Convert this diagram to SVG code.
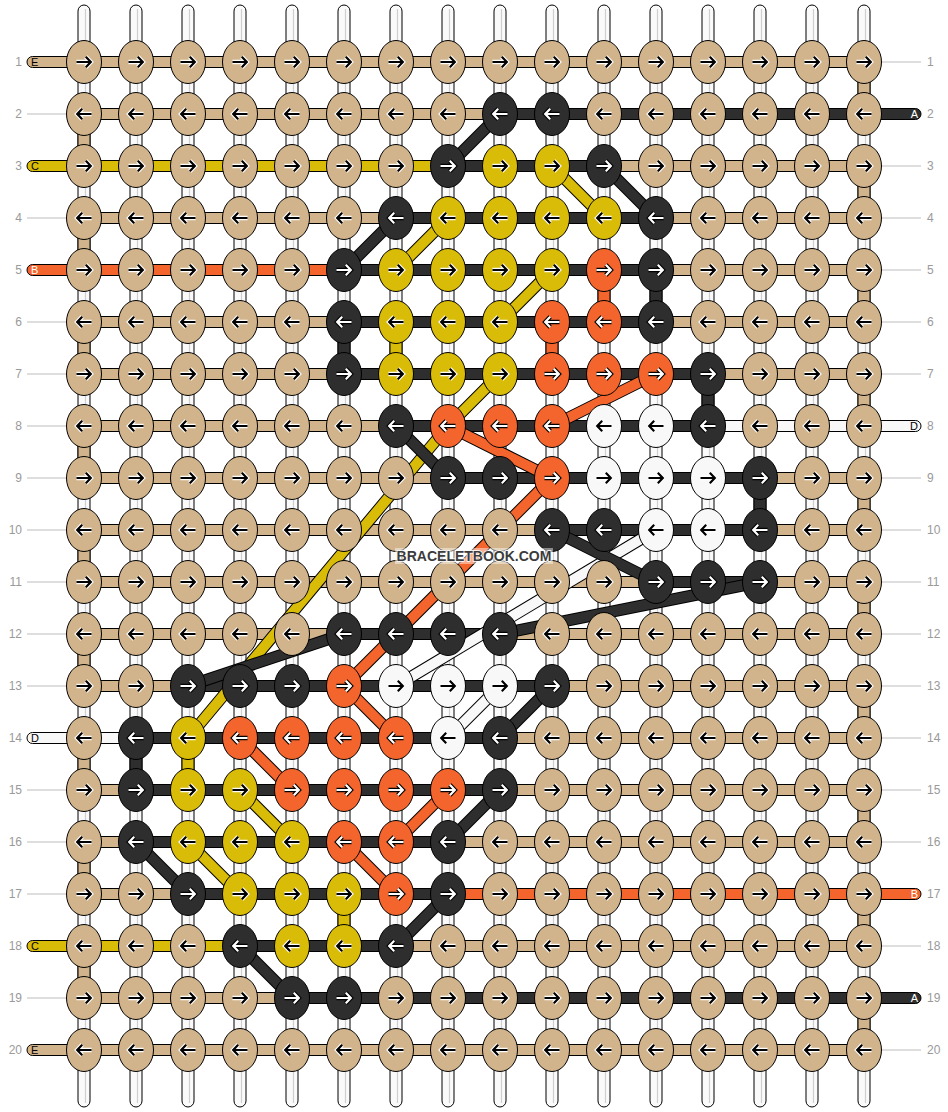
<svg xmlns="http://www.w3.org/2000/svg" xmlns:xlink="http://www.w3.org/1999/xlink" width="948" height="1112" viewBox="0 0 948 1112">
<style>
.vs{fill:#fafafa;stroke:#000;stroke-width:1}
.vl{stroke:#cfcfcf;stroke-width:1.2}
.h{stroke:#000;stroke-width:1}
.T{fill:#d2b48c}.K{fill:#2e2e2e}.Y{fill:#d9bc08}.O{fill:#f4652e}.W{fill:#f8f8f8}
ellipse{stroke:#000;stroke-width:1}
.dk{stroke:#000;stroke-width:12;fill:none;stroke-linejoin:round}
.dT{stroke:#d2b48c;stroke-width:10;fill:none;stroke-linejoin:round}
.dK{stroke:#2e2e2e;stroke-width:10;fill:none;stroke-linejoin:round}
.dY{stroke:#d9bc08;stroke-width:10;fill:none;stroke-linejoin:round}
.dO{stroke:#f4652e;stroke-width:10;fill:none;stroke-linejoin:round}
.dW{stroke:#f8f8f8;stroke-width:10;fill:none;stroke-linejoin:round}
.num{font-family:"Liberation Sans",Arial,sans-serif;font-size:12px;fill:#9a9a9a}
.gl{stroke:#bdbdbd;stroke-width:1}
.tl{font-family:"Liberation Sans",Arial,sans-serif;font-size:11px}
</style>
<defs>
<path id="pr" d="M-7.5 0H6.5M1.8-5.2L6.8 0L1.8 5.2" fill="none" stroke-linecap="butt"/>
<path id="pl" d="M7.5 0H-6.5M-1.8-5.2L-6.8 0L-1.8 5.2" fill="none" stroke-linecap="butt"/>
<g id="rb"><use href="#pr" stroke="#fff" stroke-width="4.4"/><use href="#pr" stroke="#000" stroke-width="2.2"/></g>
<g id="rw"><use href="#pr" stroke="#000" stroke-width="4.4"/><use href="#pr" stroke="#fff" stroke-width="2.2"/></g>
<g id="lb"><use href="#pl" stroke="#fff" stroke-width="4.4"/><use href="#pl" stroke="#000" stroke-width="2.2"/></g>
<g id="lw"><use href="#pl" stroke="#000" stroke-width="4.4"/><use href="#pl" stroke="#fff" stroke-width="2.2"/></g>
</defs>
<rect width="948" height="1112" fill="#fff"/>

<g id="warps">
<rect class="vs" x="78" y="5" width="12" height="1102" rx="6"/><line class="vl" x1="85.5" y1="9" x2="85.5" y2="1103"/>
<rect class="vs" x="130" y="5" width="12" height="1102" rx="6"/><line class="vl" x1="137.5" y1="9" x2="137.5" y2="1103"/>
<rect class="vs" x="182" y="5" width="12" height="1102" rx="6"/><line class="vl" x1="189.5" y1="9" x2="189.5" y2="1103"/>
<rect class="vs" x="234" y="5" width="12" height="1102" rx="6"/><line class="vl" x1="241.5" y1="9" x2="241.5" y2="1103"/>
<rect class="vs" x="286" y="5" width="12" height="1102" rx="6"/><line class="vl" x1="293.5" y1="9" x2="293.5" y2="1103"/>
<rect class="vs" x="338" y="5" width="12" height="1102" rx="6"/><line class="vl" x1="345.5" y1="9" x2="345.5" y2="1103"/>
<rect class="vs" x="390" y="5" width="12" height="1102" rx="6"/><line class="vl" x1="397.5" y1="9" x2="397.5" y2="1103"/>
<rect class="vs" x="442" y="5" width="12" height="1102" rx="6"/><line class="vl" x1="449.5" y1="9" x2="449.5" y2="1103"/>
<rect class="vs" x="494" y="5" width="12" height="1102" rx="6"/><line class="vl" x1="501.5" y1="9" x2="501.5" y2="1103"/>
<rect class="vs" x="546" y="5" width="12" height="1102" rx="6"/><line class="vl" x1="553.5" y1="9" x2="553.5" y2="1103"/>
<rect class="vs" x="598" y="5" width="12" height="1102" rx="6"/><line class="vl" x1="605.5" y1="9" x2="605.5" y2="1103"/>
<rect class="vs" x="650" y="5" width="12" height="1102" rx="6"/><line class="vl" x1="657.5" y1="9" x2="657.5" y2="1103"/>
<rect class="vs" x="702" y="5" width="12" height="1102" rx="6"/><line class="vl" x1="709.5" y1="9" x2="709.5" y2="1103"/>
<rect class="vs" x="754" y="5" width="12" height="1102" rx="6"/><line class="vl" x1="761.5" y1="9" x2="761.5" y2="1103"/>
<rect class="vs" x="806" y="5" width="12" height="1102" rx="6"/><line class="vl" x1="813.5" y1="9" x2="813.5" y2="1103"/>
<rect class="vs" x="858" y="5" width="12" height="1102" rx="6"/><line class="vl" x1="865.5" y1="9" x2="865.5" y2="1103"/>
</g>

<g id="vertical-links">
<rect class="h T" x="78" y="131" width="12" height="18"/>
<rect class="h T" x="78" y="235" width="12" height="18"/>
<rect class="h T" x="78" y="339" width="12" height="18"/>
<rect class="h T" x="78" y="443" width="12" height="18"/>
<rect class="h T" x="78" y="547" width="12" height="18"/>
<rect class="h T" x="78" y="651" width="12" height="18"/>
<rect class="h T" x="78" y="755" width="12" height="18"/>
<rect class="h T" x="78" y="859" width="12" height="18"/>
<rect class="h T" x="78" y="963" width="12" height="18"/>
<rect class="h T" x="858" y="79" width="12" height="18"/>
<rect class="h T" x="858" y="183" width="12" height="18"/>
<rect class="h T" x="858" y="287" width="12" height="18"/>
<rect class="h T" x="858" y="391" width="12" height="18"/>
<rect class="h T" x="858" y="495" width="12" height="18"/>
<rect class="h T" x="858" y="599" width="12" height="18"/>
<rect class="h T" x="858" y="703" width="12" height="18"/>
<rect class="h T" x="858" y="807" width="12" height="18"/>
<rect class="h T" x="858" y="911" width="12" height="18"/>
<rect class="h T" x="858" y="1015" width="12" height="18"/>
<rect class="h K" x="338" y="339" width="12" height="18"/>
<rect class="h Y" x="390" y="339" width="12" height="18"/>
<rect class="h O" x="546" y="339" width="12" height="18"/>
<rect class="h O" x="598" y="287" width="12" height="18"/>
<rect class="h K" x="650" y="287" width="12" height="18"/>
<rect class="h K" x="702" y="391" width="12" height="18"/>
<rect class="h K" x="754" y="495" width="12" height="18"/>
<rect class="h K" x="130" y="755" width="12" height="18"/>
<rect class="h Y" x="182" y="755" width="12" height="18"/>
<rect class="h Y" x="338" y="911" width="12" height="18"/>
</g>

<g id="edges">
<line class="gl" x1="27" y1="114" x2="66" y2="114"/>
<line class="gl" x1="27" y1="218" x2="66" y2="218"/>
<line class="gl" x1="27" y1="322" x2="66" y2="322"/>
<line class="gl" x1="27" y1="374" x2="66" y2="374"/>
<line class="gl" x1="27" y1="426" x2="66" y2="426"/>
<line class="gl" x1="27" y1="478" x2="66" y2="478"/>
<line class="gl" x1="27" y1="530" x2="66" y2="530"/>
<line class="gl" x1="27" y1="582" x2="66" y2="582"/>
<line class="gl" x1="27" y1="634" x2="66" y2="634"/>
<line class="gl" x1="27" y1="686" x2="66" y2="686"/>
<line class="gl" x1="27" y1="790" x2="66" y2="790"/>
<line class="gl" x1="27" y1="842" x2="66" y2="842"/>
<line class="gl" x1="27" y1="894" x2="66" y2="894"/>
<line class="gl" x1="27" y1="998" x2="66" y2="998"/>
<line class="gl" x1="882" y1="62" x2="921" y2="62"/>
<line class="gl" x1="882" y1="166" x2="921" y2="166"/>
<line class="gl" x1="882" y1="218" x2="921" y2="218"/>
<line class="gl" x1="882" y1="270" x2="921" y2="270"/>
<line class="gl" x1="882" y1="322" x2="921" y2="322"/>
<line class="gl" x1="882" y1="374" x2="921" y2="374"/>
<line class="gl" x1="882" y1="478" x2="921" y2="478"/>
<line class="gl" x1="882" y1="530" x2="921" y2="530"/>
<line class="gl" x1="882" y1="582" x2="921" y2="582"/>
<line class="gl" x1="882" y1="634" x2="921" y2="634"/>
<line class="gl" x1="882" y1="686" x2="921" y2="686"/>
<line class="gl" x1="882" y1="738" x2="921" y2="738"/>
<line class="gl" x1="882" y1="790" x2="921" y2="790"/>
<line class="gl" x1="882" y1="842" x2="921" y2="842"/>
<line class="gl" x1="882" y1="946" x2="921" y2="946"/>
<line class="gl" x1="882" y1="1050" x2="921" y2="1050"/>
</g>

<g id="rows">
<rect class="h T" x="84" y="56.5" width="780" height="11"/>
<rect class="h T" x="84" y="108.5" width="416" height="11"/><rect class="h K" x="500" y="108.5" width="364" height="11"/>
<rect class="h Y" x="84" y="160.5" width="364" height="11"/><rect class="h K" x="448" y="160.5" width="156" height="11"/><rect class="h T" x="604" y="160.5" width="260" height="11"/>
<rect class="h T" x="84" y="212.5" width="312" height="11"/><rect class="h K" x="396" y="212.5" width="260" height="11"/><rect class="h T" x="656" y="212.5" width="208" height="11"/>
<rect class="h O" x="84" y="264.5" width="260" height="11"/><rect class="h K" x="344" y="264.5" width="312" height="11"/><rect class="h T" x="656" y="264.5" width="208" height="11"/>
<rect class="h T" x="84" y="316.5" width="260" height="11"/><rect class="h K" x="344" y="316.5" width="312" height="11"/><rect class="h T" x="656" y="316.5" width="208" height="11"/>
<rect class="h T" x="84" y="368.5" width="260" height="11"/><rect class="h K" x="344" y="368.5" width="364" height="11"/><rect class="h T" x="708" y="368.5" width="156" height="11"/>
<rect class="h T" x="84" y="420.5" width="312" height="11"/><rect class="h K" x="396" y="420.5" width="312" height="11"/><rect class="h W" x="708" y="420.5" width="156" height="11"/>
<rect class="h T" x="84" y="472.5" width="364" height="11"/><rect class="h K" x="448" y="472.5" width="312" height="11"/><rect class="h T" x="760" y="472.5" width="104" height="11"/>
<rect class="h T" x="84" y="524.5" width="468" height="11"/><rect class="h K" x="552" y="524.5" width="208" height="11"/><rect class="h T" x="760" y="524.5" width="104" height="11"/>
<rect class="h T" x="84" y="576.5" width="572" height="11"/><rect class="h K" x="656" y="576.5" width="104" height="11"/><rect class="h T" x="760" y="576.5" width="104" height="11"/>
<rect class="h T" x="84" y="628.5" width="260" height="11"/><rect class="h K" x="344" y="628.5" width="156" height="11"/><rect class="h T" x="500" y="628.5" width="364" height="11"/>
<rect class="h T" x="84" y="680.5" width="104" height="11"/><rect class="h K" x="188" y="680.5" width="364" height="11"/><rect class="h T" x="552" y="680.5" width="312" height="11"/>
<rect class="h W" x="84" y="732.5" width="52" height="11"/><rect class="h K" x="136" y="732.5" width="364" height="11"/><rect class="h T" x="500" y="732.5" width="364" height="11"/>
<rect class="h T" x="84" y="784.5" width="52" height="11"/><rect class="h K" x="136" y="784.5" width="364" height="11"/><rect class="h T" x="500" y="784.5" width="364" height="11"/>
<rect class="h T" x="84" y="836.5" width="52" height="11"/><rect class="h K" x="136" y="836.5" width="312" height="11"/><rect class="h T" x="448" y="836.5" width="416" height="11"/>
<rect class="h T" x="84" y="888.5" width="104" height="11"/><rect class="h K" x="188" y="888.5" width="260" height="11"/><rect class="h O" x="448" y="888.5" width="416" height="11"/>
<rect class="h Y" x="84" y="940.5" width="156" height="11"/><rect class="h K" x="240" y="940.5" width="156" height="11"/><rect class="h T" x="396" y="940.5" width="468" height="11"/>
<rect class="h T" x="84" y="992.5" width="208" height="11"/><rect class="h K" x="292" y="992.5" width="572" height="11"/>
<rect class="h T" x="84" y="1044.5" width="780" height="11"/>
</g>

<g id="tabs">
<g id="tab-E1"><rect class="h T" x="27" y="56.5" width="63" height="11" rx="5.5"/><text class="tl" x="31" y="66" fill="#000">E</text></g>
<g id="tab-A2"><rect class="h K" x="858" y="108.5" width="63" height="11" rx="5.5"/><text class="tl" x="918" y="118" fill="#fff" text-anchor="end">A</text></g>
<g id="tab-C3"><rect class="h Y" x="27" y="160.5" width="63" height="11" rx="5.5"/><text class="tl" x="31" y="170" fill="#000">C</text></g>
<g id="tab-B5"><rect class="h O" x="27" y="264.5" width="63" height="11" rx="5.5"/><text class="tl" x="31" y="274" fill="#fff">B</text></g>
<g id="tab-D8"><rect class="h W" x="858" y="420.5" width="63" height="11" rx="5.5"/><text class="tl" x="918" y="430" fill="#000" text-anchor="end">D</text></g>
<g id="tab-D14"><rect class="h W" x="27" y="732.5" width="63" height="11" rx="5.5"/><text class="tl" x="31" y="742" fill="#000">D</text></g>
<g id="tab-B17"><rect class="h O" x="858" y="888.5" width="63" height="11" rx="5.5"/><text class="tl" x="918" y="898" fill="#fff" text-anchor="end">B</text></g>
<g id="tab-C18"><rect class="h Y" x="27" y="940.5" width="63" height="11" rx="5.5"/><text class="tl" x="31" y="950" fill="#000">C</text></g>
<g id="tab-A19"><rect class="h K" x="858" y="992.5" width="63" height="11" rx="5.5"/><text class="tl" x="918" y="1002" fill="#fff" text-anchor="end">A</text></g>
<g id="tab-E20"><rect class="h T" x="27" y="1044.5" width="63" height="11" rx="5.5"/><text class="tl" x="31" y="1054" fill="#000">E</text></g>
</g>

<g id="connectors">
<path class="dk" d="M656 530L396 686"/><path class="dW" d="M656 530L396 686"/>
<path class="dk" d="M500 686L448 738"/><path class="dW" d="M500 686L448 738"/>
<path class="dk" d="M552 166L604 218"/><path class="dY" d="M552 166L604 218"/>
<path class="dk" d="M448 218L396 270"/><path class="dY" d="M448 218L396 270"/>
<path class="dk" d="M552 270L500 322"/><path class="dY" d="M552 270L500 322"/>
<path class="dk" d="M500 374L448 426L188 738"/><path class="dY" d="M500 374L448 426L188 738"/>
<path class="dk" d="M240 790L292 842"/><path class="dY" d="M240 790L292 842"/>
<path class="dk" d="M188 842L240 894"/><path class="dY" d="M188 842L240 894"/>
<path class="dk" d="M656 374L552 426"/><path class="dO" d="M656 374L552 426"/>
<path class="dk" d="M448 426L552 478"/><path class="dO" d="M448 426L552 478"/>
<path class="dk" d="M552 478L344 686"/><path class="dO" d="M552 478L344 686"/>
<path class="dk" d="M344 686L396 738"/><path class="dO" d="M344 686L396 738"/>
<path class="dk" d="M240 738L292 790"/><path class="dO" d="M240 738L292 790"/>
<path class="dk" d="M448 790L396 842"/><path class="dO" d="M448 790L396 842"/>
<path class="dk" d="M344 842L396 894"/><path class="dO" d="M344 842L396 894"/>
<path class="dk" d="M500 114L448 166"/><path class="dK" d="M500 114L448 166"/>
<path class="dk" d="M604 166L656 218"/><path class="dK" d="M604 166L656 218"/>
<path class="dk" d="M396 218L344 270"/><path class="dK" d="M396 218L344 270"/>
<path class="dk" d="M396 426L448 478"/><path class="dK" d="M396 426L448 478"/>
<path class="dk" d="M552 530L656 582"/><path class="dK" d="M552 530L656 582"/>
<path class="dk" d="M760 582L500 634"/><path class="dK" d="M760 582L500 634"/>
<path class="dk" d="M344 634L188 686"/><path class="dK" d="M344 634L188 686"/>
<path class="dk" d="M552 686L500 738"/><path class="dK" d="M552 686L500 738"/>
<path class="dk" d="M500 790L448 842"/><path class="dK" d="M500 790L448 842"/>
<path class="dk" d="M136 842L188 894"/><path class="dK" d="M136 842L188 894"/>
<path class="dk" d="M448 894L396 946"/><path class="dK" d="M448 894L396 946"/>
<path class="dk" d="M240 946L292 998"/><path class="dK" d="M240 946L292 998"/>
</g>

<g id="knots">
<g id="n1-1"><ellipse class="T" cx="84" cy="62" rx="17.5" ry="21.5"/><use href="#rb" x="84" y="62"/></g>
<g id="n1-2"><ellipse class="T" cx="136" cy="62" rx="17.5" ry="21.5"/><use href="#rb" x="136" y="62"/></g>
<g id="n1-3"><ellipse class="T" cx="188" cy="62" rx="17.5" ry="21.5"/><use href="#rb" x="188" y="62"/></g>
<g id="n1-4"><ellipse class="T" cx="240" cy="62" rx="17.5" ry="21.5"/><use href="#rb" x="240" y="62"/></g>
<g id="n1-5"><ellipse class="T" cx="292" cy="62" rx="17.5" ry="21.5"/><use href="#rb" x="292" y="62"/></g>
<g id="n1-6"><ellipse class="T" cx="344" cy="62" rx="17.5" ry="21.5"/><use href="#rb" x="344" y="62"/></g>
<g id="n1-7"><ellipse class="T" cx="396" cy="62" rx="17.5" ry="21.5"/><use href="#rb" x="396" y="62"/></g>
<g id="n1-8"><ellipse class="T" cx="448" cy="62" rx="17.5" ry="21.5"/><use href="#rb" x="448" y="62"/></g>
<g id="n1-9"><ellipse class="T" cx="500" cy="62" rx="17.5" ry="21.5"/><use href="#rb" x="500" y="62"/></g>
<g id="n1-10"><ellipse class="T" cx="552" cy="62" rx="17.5" ry="21.5"/><use href="#rb" x="552" y="62"/></g>
<g id="n1-11"><ellipse class="T" cx="604" cy="62" rx="17.5" ry="21.5"/><use href="#rb" x="604" y="62"/></g>
<g id="n1-12"><ellipse class="T" cx="656" cy="62" rx="17.5" ry="21.5"/><use href="#rb" x="656" y="62"/></g>
<g id="n1-13"><ellipse class="T" cx="708" cy="62" rx="17.5" ry="21.5"/><use href="#rb" x="708" y="62"/></g>
<g id="n1-14"><ellipse class="T" cx="760" cy="62" rx="17.5" ry="21.5"/><use href="#rb" x="760" y="62"/></g>
<g id="n1-15"><ellipse class="T" cx="812" cy="62" rx="17.5" ry="21.5"/><use href="#rb" x="812" y="62"/></g>
<g id="n1-16"><ellipse class="T" cx="864" cy="62" rx="17.5" ry="21.5"/><use href="#rb" x="864" y="62"/></g>

<g id="n2-1"><ellipse class="T" cx="84" cy="114" rx="17.5" ry="21.5"/><use href="#lb" x="84" y="114"/></g>
<g id="n2-2"><ellipse class="T" cx="136" cy="114" rx="17.5" ry="21.5"/><use href="#lb" x="136" y="114"/></g>
<g id="n2-3"><ellipse class="T" cx="188" cy="114" rx="17.5" ry="21.5"/><use href="#lb" x="188" y="114"/></g>
<g id="n2-4"><ellipse class="T" cx="240" cy="114" rx="17.5" ry="21.5"/><use href="#lb" x="240" y="114"/></g>
<g id="n2-5"><ellipse class="T" cx="292" cy="114" rx="17.5" ry="21.5"/><use href="#lb" x="292" y="114"/></g>
<g id="n2-6"><ellipse class="T" cx="344" cy="114" rx="17.5" ry="21.5"/><use href="#lb" x="344" y="114"/></g>
<g id="n2-7"><ellipse class="T" cx="396" cy="114" rx="17.5" ry="21.5"/><use href="#lb" x="396" y="114"/></g>
<g id="n2-8"><ellipse class="T" cx="448" cy="114" rx="17.5" ry="21.5"/><use href="#lb" x="448" y="114"/></g>
<g id="n2-9"><ellipse class="K" cx="500" cy="114" rx="17.5" ry="21.5"/><use href="#lw" x="500" y="114"/></g>
<g id="n2-10"><ellipse class="K" cx="552" cy="114" rx="17.5" ry="21.5"/><use href="#lw" x="552" y="114"/></g>
<g id="n2-11"><ellipse class="T" cx="604" cy="114" rx="17.5" ry="21.5"/><use href="#lb" x="604" y="114"/></g>
<g id="n2-12"><ellipse class="T" cx="656" cy="114" rx="17.5" ry="21.5"/><use href="#lb" x="656" y="114"/></g>
<g id="n2-13"><ellipse class="T" cx="708" cy="114" rx="17.5" ry="21.5"/><use href="#lb" x="708" y="114"/></g>
<g id="n2-14"><ellipse class="T" cx="760" cy="114" rx="17.5" ry="21.5"/><use href="#lb" x="760" y="114"/></g>
<g id="n2-15"><ellipse class="T" cx="812" cy="114" rx="17.5" ry="21.5"/><use href="#lb" x="812" y="114"/></g>
<g id="n2-16"><ellipse class="T" cx="864" cy="114" rx="17.5" ry="21.5"/><use href="#lb" x="864" y="114"/></g>

<g id="n3-1"><ellipse class="T" cx="84" cy="166" rx="17.5" ry="21.5"/><use href="#rb" x="84" y="166"/></g>
<g id="n3-2"><ellipse class="T" cx="136" cy="166" rx="17.5" ry="21.5"/><use href="#rb" x="136" y="166"/></g>
<g id="n3-3"><ellipse class="T" cx="188" cy="166" rx="17.5" ry="21.5"/><use href="#rb" x="188" y="166"/></g>
<g id="n3-4"><ellipse class="T" cx="240" cy="166" rx="17.5" ry="21.5"/><use href="#rb" x="240" y="166"/></g>
<g id="n3-5"><ellipse class="T" cx="292" cy="166" rx="17.5" ry="21.5"/><use href="#rb" x="292" y="166"/></g>
<g id="n3-6"><ellipse class="T" cx="344" cy="166" rx="17.5" ry="21.5"/><use href="#rb" x="344" y="166"/></g>
<g id="n3-7"><ellipse class="T" cx="396" cy="166" rx="17.5" ry="21.5"/><use href="#rb" x="396" y="166"/></g>
<g id="n3-8"><ellipse class="K" cx="448" cy="166" rx="17.5" ry="21.5"/><use href="#rw" x="448" y="166"/></g>
<g id="n3-9"><ellipse class="Y" cx="500" cy="166" rx="17.5" ry="21.5"/><use href="#rb" x="500" y="166"/></g>
<g id="n3-10"><ellipse class="Y" cx="552" cy="166" rx="17.5" ry="21.5"/><use href="#rb" x="552" y="166"/></g>
<g id="n3-11"><ellipse class="K" cx="604" cy="166" rx="17.5" ry="21.5"/><use href="#rw" x="604" y="166"/></g>
<g id="n3-12"><ellipse class="T" cx="656" cy="166" rx="17.5" ry="21.5"/><use href="#rb" x="656" y="166"/></g>
<g id="n3-13"><ellipse class="T" cx="708" cy="166" rx="17.5" ry="21.5"/><use href="#rb" x="708" y="166"/></g>
<g id="n3-14"><ellipse class="T" cx="760" cy="166" rx="17.5" ry="21.5"/><use href="#rb" x="760" y="166"/></g>
<g id="n3-15"><ellipse class="T" cx="812" cy="166" rx="17.5" ry="21.5"/><use href="#rb" x="812" y="166"/></g>
<g id="n3-16"><ellipse class="T" cx="864" cy="166" rx="17.5" ry="21.5"/><use href="#rb" x="864" y="166"/></g>

<g id="n4-1"><ellipse class="T" cx="84" cy="218" rx="17.5" ry="21.5"/><use href="#lb" x="84" y="218"/></g>
<g id="n4-2"><ellipse class="T" cx="136" cy="218" rx="17.5" ry="21.5"/><use href="#lb" x="136" y="218"/></g>
<g id="n4-3"><ellipse class="T" cx="188" cy="218" rx="17.5" ry="21.5"/><use href="#lb" x="188" y="218"/></g>
<g id="n4-4"><ellipse class="T" cx="240" cy="218" rx="17.5" ry="21.5"/><use href="#lb" x="240" y="218"/></g>
<g id="n4-5"><ellipse class="T" cx="292" cy="218" rx="17.5" ry="21.5"/><use href="#lb" x="292" y="218"/></g>
<g id="n4-6"><ellipse class="T" cx="344" cy="218" rx="17.5" ry="21.5"/><use href="#lb" x="344" y="218"/></g>
<g id="n4-7"><ellipse class="K" cx="396" cy="218" rx="17.5" ry="21.5"/><use href="#lw" x="396" y="218"/></g>
<g id="n4-8"><ellipse class="Y" cx="448" cy="218" rx="17.5" ry="21.5"/><use href="#lb" x="448" y="218"/></g>
<g id="n4-9"><ellipse class="Y" cx="500" cy="218" rx="17.5" ry="21.5"/><use href="#lb" x="500" y="218"/></g>
<g id="n4-10"><ellipse class="Y" cx="552" cy="218" rx="17.5" ry="21.5"/><use href="#lb" x="552" y="218"/></g>
<g id="n4-11"><ellipse class="Y" cx="604" cy="218" rx="17.5" ry="21.5"/><use href="#lb" x="604" y="218"/></g>
<g id="n4-12"><ellipse class="K" cx="656" cy="218" rx="17.5" ry="21.5"/><use href="#lw" x="656" y="218"/></g>
<g id="n4-13"><ellipse class="T" cx="708" cy="218" rx="17.5" ry="21.5"/><use href="#lb" x="708" y="218"/></g>
<g id="n4-14"><ellipse class="T" cx="760" cy="218" rx="17.5" ry="21.5"/><use href="#lb" x="760" y="218"/></g>
<g id="n4-15"><ellipse class="T" cx="812" cy="218" rx="17.5" ry="21.5"/><use href="#lb" x="812" y="218"/></g>
<g id="n4-16"><ellipse class="T" cx="864" cy="218" rx="17.5" ry="21.5"/><use href="#lb" x="864" y="218"/></g>

<g id="n5-1"><ellipse class="T" cx="84" cy="270" rx="17.5" ry="21.5"/><use href="#rb" x="84" y="270"/></g>
<g id="n5-2"><ellipse class="T" cx="136" cy="270" rx="17.5" ry="21.5"/><use href="#rb" x="136" y="270"/></g>
<g id="n5-3"><ellipse class="T" cx="188" cy="270" rx="17.5" ry="21.5"/><use href="#rb" x="188" y="270"/></g>
<g id="n5-4"><ellipse class="T" cx="240" cy="270" rx="17.5" ry="21.5"/><use href="#rb" x="240" y="270"/></g>
<g id="n5-5"><ellipse class="T" cx="292" cy="270" rx="17.5" ry="21.5"/><use href="#rb" x="292" y="270"/></g>
<g id="n5-6"><ellipse class="K" cx="344" cy="270" rx="17.5" ry="21.5"/><use href="#rw" x="344" y="270"/></g>
<g id="n5-7"><ellipse class="Y" cx="396" cy="270" rx="17.5" ry="21.5"/><use href="#rb" x="396" y="270"/></g>
<g id="n5-8"><ellipse class="Y" cx="448" cy="270" rx="17.5" ry="21.5"/><use href="#rb" x="448" y="270"/></g>
<g id="n5-9"><ellipse class="Y" cx="500" cy="270" rx="17.5" ry="21.5"/><use href="#rb" x="500" y="270"/></g>
<g id="n5-10"><ellipse class="Y" cx="552" cy="270" rx="17.5" ry="21.5"/><use href="#rb" x="552" y="270"/></g>
<g id="n5-11"><ellipse class="O" cx="604" cy="270" rx="17.5" ry="21.5"/><use href="#rw" x="604" y="270"/></g>
<g id="n5-12"><ellipse class="K" cx="656" cy="270" rx="17.5" ry="21.5"/><use href="#rw" x="656" y="270"/></g>
<g id="n5-13"><ellipse class="T" cx="708" cy="270" rx="17.5" ry="21.5"/><use href="#rb" x="708" y="270"/></g>
<g id="n5-14"><ellipse class="T" cx="760" cy="270" rx="17.5" ry="21.5"/><use href="#rb" x="760" y="270"/></g>
<g id="n5-15"><ellipse class="T" cx="812" cy="270" rx="17.5" ry="21.5"/><use href="#rb" x="812" y="270"/></g>
<g id="n5-16"><ellipse class="T" cx="864" cy="270" rx="17.5" ry="21.5"/><use href="#rb" x="864" y="270"/></g>

<g id="n6-1"><ellipse class="T" cx="84" cy="322" rx="17.5" ry="21.5"/><use href="#lb" x="84" y="322"/></g>
<g id="n6-2"><ellipse class="T" cx="136" cy="322" rx="17.5" ry="21.5"/><use href="#lb" x="136" y="322"/></g>
<g id="n6-3"><ellipse class="T" cx="188" cy="322" rx="17.5" ry="21.5"/><use href="#lb" x="188" y="322"/></g>
<g id="n6-4"><ellipse class="T" cx="240" cy="322" rx="17.5" ry="21.5"/><use href="#lb" x="240" y="322"/></g>
<g id="n6-5"><ellipse class="T" cx="292" cy="322" rx="17.5" ry="21.5"/><use href="#lb" x="292" y="322"/></g>
<g id="n6-6"><ellipse class="K" cx="344" cy="322" rx="17.5" ry="21.5"/><use href="#lw" x="344" y="322"/></g>
<g id="n6-7"><ellipse class="Y" cx="396" cy="322" rx="17.5" ry="21.5"/><use href="#lb" x="396" y="322"/></g>
<g id="n6-8"><ellipse class="Y" cx="448" cy="322" rx="17.5" ry="21.5"/><use href="#lb" x="448" y="322"/></g>
<g id="n6-9"><ellipse class="Y" cx="500" cy="322" rx="17.5" ry="21.5"/><use href="#lb" x="500" y="322"/></g>
<g id="n6-10"><ellipse class="O" cx="552" cy="322" rx="17.5" ry="21.5"/><use href="#lw" x="552" y="322"/></g>
<g id="n6-11"><ellipse class="O" cx="604" cy="322" rx="17.5" ry="21.5"/><use href="#lw" x="604" y="322"/></g>
<g id="n6-12"><ellipse class="K" cx="656" cy="322" rx="17.5" ry="21.5"/><use href="#lw" x="656" y="322"/></g>
<g id="n6-13"><ellipse class="T" cx="708" cy="322" rx="17.5" ry="21.5"/><use href="#lb" x="708" y="322"/></g>
<g id="n6-14"><ellipse class="T" cx="760" cy="322" rx="17.5" ry="21.5"/><use href="#lb" x="760" y="322"/></g>
<g id="n6-15"><ellipse class="T" cx="812" cy="322" rx="17.5" ry="21.5"/><use href="#lb" x="812" y="322"/></g>
<g id="n6-16"><ellipse class="T" cx="864" cy="322" rx="17.5" ry="21.5"/><use href="#lb" x="864" y="322"/></g>

<g id="n7-1"><ellipse class="T" cx="84" cy="374" rx="17.5" ry="21.5"/><use href="#rb" x="84" y="374"/></g>
<g id="n7-2"><ellipse class="T" cx="136" cy="374" rx="17.5" ry="21.5"/><use href="#rb" x="136" y="374"/></g>
<g id="n7-3"><ellipse class="T" cx="188" cy="374" rx="17.5" ry="21.5"/><use href="#rb" x="188" y="374"/></g>
<g id="n7-4"><ellipse class="T" cx="240" cy="374" rx="17.5" ry="21.5"/><use href="#rb" x="240" y="374"/></g>
<g id="n7-5"><ellipse class="T" cx="292" cy="374" rx="17.5" ry="21.5"/><use href="#rb" x="292" y="374"/></g>
<g id="n7-6"><ellipse class="K" cx="344" cy="374" rx="17.5" ry="21.5"/><use href="#rw" x="344" y="374"/></g>
<g id="n7-7"><ellipse class="Y" cx="396" cy="374" rx="17.5" ry="21.5"/><use href="#rb" x="396" y="374"/></g>
<g id="n7-8"><ellipse class="Y" cx="448" cy="374" rx="17.5" ry="21.5"/><use href="#rb" x="448" y="374"/></g>
<g id="n7-9"><ellipse class="Y" cx="500" cy="374" rx="17.5" ry="21.5"/><use href="#rb" x="500" y="374"/></g>
<g id="n7-10"><ellipse class="O" cx="552" cy="374" rx="17.5" ry="21.5"/><use href="#rw" x="552" y="374"/></g>
<g id="n7-11"><ellipse class="O" cx="604" cy="374" rx="17.5" ry="21.5"/><use href="#rw" x="604" y="374"/></g>
<g id="n7-12"><ellipse class="O" cx="656" cy="374" rx="17.5" ry="21.5"/><use href="#rw" x="656" y="374"/></g>
<g id="n7-13"><ellipse class="K" cx="708" cy="374" rx="17.5" ry="21.5"/><use href="#rw" x="708" y="374"/></g>
<g id="n7-14"><ellipse class="T" cx="760" cy="374" rx="17.5" ry="21.5"/><use href="#rb" x="760" y="374"/></g>
<g id="n7-15"><ellipse class="T" cx="812" cy="374" rx="17.5" ry="21.5"/><use href="#rb" x="812" y="374"/></g>
<g id="n7-16"><ellipse class="T" cx="864" cy="374" rx="17.5" ry="21.5"/><use href="#rb" x="864" y="374"/></g>

<g id="n8-1"><ellipse class="T" cx="84" cy="426" rx="17.5" ry="21.5"/><use href="#lb" x="84" y="426"/></g>
<g id="n8-2"><ellipse class="T" cx="136" cy="426" rx="17.5" ry="21.5"/><use href="#lb" x="136" y="426"/></g>
<g id="n8-3"><ellipse class="T" cx="188" cy="426" rx="17.5" ry="21.5"/><use href="#lb" x="188" y="426"/></g>
<g id="n8-4"><ellipse class="T" cx="240" cy="426" rx="17.5" ry="21.5"/><use href="#lb" x="240" y="426"/></g>
<g id="n8-5"><ellipse class="T" cx="292" cy="426" rx="17.5" ry="21.5"/><use href="#lb" x="292" y="426"/></g>
<g id="n8-6"><ellipse class="T" cx="344" cy="426" rx="17.5" ry="21.5"/><use href="#lb" x="344" y="426"/></g>
<g id="n8-7"><ellipse class="K" cx="396" cy="426" rx="17.5" ry="21.5"/><use href="#lw" x="396" y="426"/></g>
<g id="n8-8"><ellipse class="O" cx="448" cy="426" rx="17.5" ry="21.5"/><use href="#lw" x="448" y="426"/></g>
<g id="n8-9"><ellipse class="O" cx="500" cy="426" rx="17.5" ry="21.5"/><use href="#lw" x="500" y="426"/></g>
<g id="n8-10"><ellipse class="O" cx="552" cy="426" rx="17.5" ry="21.5"/><use href="#lw" x="552" y="426"/></g>
<g id="n8-11"><ellipse class="W" cx="604" cy="426" rx="17.5" ry="21.5"/><use href="#lb" x="604" y="426"/></g>
<g id="n8-12"><ellipse class="W" cx="656" cy="426" rx="17.5" ry="21.5"/><use href="#lb" x="656" y="426"/></g>
<g id="n8-13"><ellipse class="K" cx="708" cy="426" rx="17.5" ry="21.5"/><use href="#lw" x="708" y="426"/></g>
<g id="n8-14"><ellipse class="T" cx="760" cy="426" rx="17.5" ry="21.5"/><use href="#lb" x="760" y="426"/></g>
<g id="n8-15"><ellipse class="T" cx="812" cy="426" rx="17.5" ry="21.5"/><use href="#lb" x="812" y="426"/></g>
<g id="n8-16"><ellipse class="T" cx="864" cy="426" rx="17.5" ry="21.5"/><use href="#lb" x="864" y="426"/></g>

<g id="n9-1"><ellipse class="T" cx="84" cy="478" rx="17.5" ry="21.5"/><use href="#rb" x="84" y="478"/></g>
<g id="n9-2"><ellipse class="T" cx="136" cy="478" rx="17.5" ry="21.5"/><use href="#rb" x="136" y="478"/></g>
<g id="n9-3"><ellipse class="T" cx="188" cy="478" rx="17.5" ry="21.5"/><use href="#rb" x="188" y="478"/></g>
<g id="n9-4"><ellipse class="T" cx="240" cy="478" rx="17.5" ry="21.5"/><use href="#rb" x="240" y="478"/></g>
<g id="n9-5"><ellipse class="T" cx="292" cy="478" rx="17.5" ry="21.5"/><use href="#rb" x="292" y="478"/></g>
<g id="n9-6"><ellipse class="T" cx="344" cy="478" rx="17.5" ry="21.5"/><use href="#rb" x="344" y="478"/></g>
<g id="n9-7"><ellipse class="T" cx="396" cy="478" rx="17.5" ry="21.5"/><use href="#rb" x="396" y="478"/></g>
<g id="n9-8"><ellipse class="K" cx="448" cy="478" rx="17.5" ry="21.5"/><use href="#rw" x="448" y="478"/></g>
<g id="n9-9"><ellipse class="K" cx="500" cy="478" rx="17.5" ry="21.5"/><use href="#rw" x="500" y="478"/></g>
<g id="n9-10"><ellipse class="O" cx="552" cy="478" rx="17.5" ry="21.5"/><use href="#rw" x="552" y="478"/></g>
<g id="n9-11"><ellipse class="W" cx="604" cy="478" rx="17.5" ry="21.5"/><use href="#rb" x="604" y="478"/></g>
<g id="n9-12"><ellipse class="W" cx="656" cy="478" rx="17.5" ry="21.5"/><use href="#rb" x="656" y="478"/></g>
<g id="n9-13"><ellipse class="W" cx="708" cy="478" rx="17.5" ry="21.5"/><use href="#rb" x="708" y="478"/></g>
<g id="n9-14"><ellipse class="K" cx="760" cy="478" rx="17.5" ry="21.5"/><use href="#rw" x="760" y="478"/></g>
<g id="n9-15"><ellipse class="T" cx="812" cy="478" rx="17.5" ry="21.5"/><use href="#rb" x="812" y="478"/></g>
<g id="n9-16"><ellipse class="T" cx="864" cy="478" rx="17.5" ry="21.5"/><use href="#rb" x="864" y="478"/></g>

<g id="n10-1"><ellipse class="T" cx="84" cy="530" rx="17.5" ry="21.5"/><use href="#lb" x="84" y="530"/></g>
<g id="n10-2"><ellipse class="T" cx="136" cy="530" rx="17.5" ry="21.5"/><use href="#lb" x="136" y="530"/></g>
<g id="n10-3"><ellipse class="T" cx="188" cy="530" rx="17.5" ry="21.5"/><use href="#lb" x="188" y="530"/></g>
<g id="n10-4"><ellipse class="T" cx="240" cy="530" rx="17.5" ry="21.5"/><use href="#lb" x="240" y="530"/></g>
<g id="n10-5"><ellipse class="T" cx="292" cy="530" rx="17.5" ry="21.5"/><use href="#lb" x="292" y="530"/></g>
<g id="n10-6"><ellipse class="T" cx="344" cy="530" rx="17.5" ry="21.5"/><use href="#lb" x="344" y="530"/></g>
<g id="n10-7"><ellipse class="T" cx="396" cy="530" rx="17.5" ry="21.5"/><use href="#lb" x="396" y="530"/></g>
<g id="n10-8"><ellipse class="T" cx="448" cy="530" rx="17.5" ry="21.5"/><use href="#lb" x="448" y="530"/></g>
<g id="n10-9"><ellipse class="T" cx="500" cy="530" rx="17.5" ry="21.5"/><use href="#lb" x="500" y="530"/></g>
<g id="n10-10"><ellipse class="K" cx="552" cy="530" rx="17.5" ry="21.5"/><use href="#lw" x="552" y="530"/></g>
<g id="n10-11"><ellipse class="K" cx="604" cy="530" rx="17.5" ry="21.5"/><use href="#lw" x="604" y="530"/></g>
<g id="n10-12"><ellipse class="W" cx="656" cy="530" rx="17.5" ry="21.5"/><use href="#lb" x="656" y="530"/></g>
<g id="n10-13"><ellipse class="W" cx="708" cy="530" rx="17.5" ry="21.5"/><use href="#lb" x="708" y="530"/></g>
<g id="n10-14"><ellipse class="K" cx="760" cy="530" rx="17.5" ry="21.5"/><use href="#lw" x="760" y="530"/></g>
<g id="n10-15"><ellipse class="T" cx="812" cy="530" rx="17.5" ry="21.5"/><use href="#lb" x="812" y="530"/></g>
<g id="n10-16"><ellipse class="T" cx="864" cy="530" rx="17.5" ry="21.5"/><use href="#lb" x="864" y="530"/></g>

<g id="n11-1"><ellipse class="T" cx="84" cy="582" rx="17.5" ry="21.5"/><use href="#rb" x="84" y="582"/></g>
<g id="n11-2"><ellipse class="T" cx="136" cy="582" rx="17.5" ry="21.5"/><use href="#rb" x="136" y="582"/></g>
<g id="n11-3"><ellipse class="T" cx="188" cy="582" rx="17.5" ry="21.5"/><use href="#rb" x="188" y="582"/></g>
<g id="n11-4"><ellipse class="T" cx="240" cy="582" rx="17.5" ry="21.5"/><use href="#rb" x="240" y="582"/></g>
<g id="n11-5"><ellipse class="T" cx="292" cy="582" rx="17.5" ry="21.5"/><use href="#rb" x="292" y="582"/></g>
<g id="n11-6"><ellipse class="T" cx="344" cy="582" rx="17.5" ry="21.5"/><use href="#rb" x="344" y="582"/></g>
<g id="n11-7"><ellipse class="T" cx="396" cy="582" rx="17.5" ry="21.5"/><use href="#rb" x="396" y="582"/></g>
<g id="n11-8"><ellipse class="T" cx="448" cy="582" rx="17.5" ry="21.5"/><use href="#rb" x="448" y="582"/></g>
<g id="n11-9"><ellipse class="T" cx="500" cy="582" rx="17.5" ry="21.5"/><use href="#rb" x="500" y="582"/></g>
<g id="n11-10"><ellipse class="T" cx="552" cy="582" rx="17.5" ry="21.5"/><use href="#rb" x="552" y="582"/></g>
<g id="n11-11"><ellipse class="T" cx="604" cy="582" rx="17.5" ry="21.5"/><use href="#rb" x="604" y="582"/></g>
<g id="n11-12"><ellipse class="K" cx="656" cy="582" rx="17.5" ry="21.5"/><use href="#rw" x="656" y="582"/></g>
<g id="n11-13"><ellipse class="K" cx="708" cy="582" rx="17.5" ry="21.5"/><use href="#rw" x="708" y="582"/></g>
<g id="n11-14"><ellipse class="K" cx="760" cy="582" rx="17.5" ry="21.5"/><use href="#rw" x="760" y="582"/></g>
<g id="n11-15"><ellipse class="T" cx="812" cy="582" rx="17.5" ry="21.5"/><use href="#rb" x="812" y="582"/></g>
<g id="n11-16"><ellipse class="T" cx="864" cy="582" rx="17.5" ry="21.5"/><use href="#rb" x="864" y="582"/></g>

<g id="n12-1"><ellipse class="T" cx="84" cy="634" rx="17.5" ry="21.5"/><use href="#lb" x="84" y="634"/></g>
<g id="n12-2"><ellipse class="T" cx="136" cy="634" rx="17.5" ry="21.5"/><use href="#lb" x="136" y="634"/></g>
<g id="n12-3"><ellipse class="T" cx="188" cy="634" rx="17.5" ry="21.5"/><use href="#lb" x="188" y="634"/></g>
<g id="n12-4"><ellipse class="T" cx="240" cy="634" rx="17.5" ry="21.5"/><use href="#lb" x="240" y="634"/></g>
<g id="n12-5"><ellipse class="T" cx="292" cy="634" rx="17.5" ry="21.5"/><use href="#lb" x="292" y="634"/></g>
<g id="n12-6"><ellipse class="K" cx="344" cy="634" rx="17.5" ry="21.5"/><use href="#lw" x="344" y="634"/></g>
<g id="n12-7"><ellipse class="K" cx="396" cy="634" rx="17.5" ry="21.5"/><use href="#lw" x="396" y="634"/></g>
<g id="n12-8"><ellipse class="K" cx="448" cy="634" rx="17.5" ry="21.5"/><use href="#lw" x="448" y="634"/></g>
<g id="n12-9"><ellipse class="K" cx="500" cy="634" rx="17.5" ry="21.5"/><use href="#lw" x="500" y="634"/></g>
<g id="n12-10"><ellipse class="T" cx="552" cy="634" rx="17.5" ry="21.5"/><use href="#lb" x="552" y="634"/></g>
<g id="n12-11"><ellipse class="T" cx="604" cy="634" rx="17.5" ry="21.5"/><use href="#lb" x="604" y="634"/></g>
<g id="n12-12"><ellipse class="T" cx="656" cy="634" rx="17.5" ry="21.5"/><use href="#lb" x="656" y="634"/></g>
<g id="n12-13"><ellipse class="T" cx="708" cy="634" rx="17.5" ry="21.5"/><use href="#lb" x="708" y="634"/></g>
<g id="n12-14"><ellipse class="T" cx="760" cy="634" rx="17.5" ry="21.5"/><use href="#lb" x="760" y="634"/></g>
<g id="n12-15"><ellipse class="T" cx="812" cy="634" rx="17.5" ry="21.5"/><use href="#lb" x="812" y="634"/></g>
<g id="n12-16"><ellipse class="T" cx="864" cy="634" rx="17.5" ry="21.5"/><use href="#lb" x="864" y="634"/></g>

<g id="n13-1"><ellipse class="T" cx="84" cy="686" rx="17.5" ry="21.5"/><use href="#rb" x="84" y="686"/></g>
<g id="n13-2"><ellipse class="T" cx="136" cy="686" rx="17.5" ry="21.5"/><use href="#rb" x="136" y="686"/></g>
<g id="n13-3"><ellipse class="K" cx="188" cy="686" rx="17.5" ry="21.5"/><use href="#rw" x="188" y="686"/></g>
<g id="n13-4"><ellipse class="K" cx="240" cy="686" rx="17.5" ry="21.5"/><use href="#rw" x="240" y="686"/></g>
<g id="n13-5"><ellipse class="K" cx="292" cy="686" rx="17.5" ry="21.5"/><use href="#rw" x="292" y="686"/></g>
<g id="n13-6"><ellipse class="O" cx="344" cy="686" rx="17.5" ry="21.5"/><use href="#rw" x="344" y="686"/></g>
<g id="n13-7"><ellipse class="W" cx="396" cy="686" rx="17.5" ry="21.5"/><use href="#rb" x="396" y="686"/></g>
<g id="n13-8"><ellipse class="W" cx="448" cy="686" rx="17.5" ry="21.5"/><use href="#rb" x="448" y="686"/></g>
<g id="n13-9"><ellipse class="W" cx="500" cy="686" rx="17.5" ry="21.5"/><use href="#rb" x="500" y="686"/></g>
<g id="n13-10"><ellipse class="K" cx="552" cy="686" rx="17.5" ry="21.5"/><use href="#rw" x="552" y="686"/></g>
<g id="n13-11"><ellipse class="T" cx="604" cy="686" rx="17.5" ry="21.5"/><use href="#rb" x="604" y="686"/></g>
<g id="n13-12"><ellipse class="T" cx="656" cy="686" rx="17.5" ry="21.5"/><use href="#rb" x="656" y="686"/></g>
<g id="n13-13"><ellipse class="T" cx="708" cy="686" rx="17.5" ry="21.5"/><use href="#rb" x="708" y="686"/></g>
<g id="n13-14"><ellipse class="T" cx="760" cy="686" rx="17.5" ry="21.5"/><use href="#rb" x="760" y="686"/></g>
<g id="n13-15"><ellipse class="T" cx="812" cy="686" rx="17.5" ry="21.5"/><use href="#rb" x="812" y="686"/></g>
<g id="n13-16"><ellipse class="T" cx="864" cy="686" rx="17.5" ry="21.5"/><use href="#rb" x="864" y="686"/></g>

<g id="n14-1"><ellipse class="T" cx="84" cy="738" rx="17.5" ry="21.5"/><use href="#lb" x="84" y="738"/></g>
<g id="n14-2"><ellipse class="K" cx="136" cy="738" rx="17.5" ry="21.5"/><use href="#lw" x="136" y="738"/></g>
<g id="n14-3"><ellipse class="Y" cx="188" cy="738" rx="17.5" ry="21.5"/><use href="#lb" x="188" y="738"/></g>
<g id="n14-4"><ellipse class="O" cx="240" cy="738" rx="17.5" ry="21.5"/><use href="#lw" x="240" y="738"/></g>
<g id="n14-5"><ellipse class="O" cx="292" cy="738" rx="17.5" ry="21.5"/><use href="#lw" x="292" y="738"/></g>
<g id="n14-6"><ellipse class="O" cx="344" cy="738" rx="17.5" ry="21.5"/><use href="#lw" x="344" y="738"/></g>
<g id="n14-7"><ellipse class="O" cx="396" cy="738" rx="17.5" ry="21.5"/><use href="#lw" x="396" y="738"/></g>
<g id="n14-8"><ellipse class="W" cx="448" cy="738" rx="17.5" ry="21.5"/><use href="#lb" x="448" y="738"/></g>
<g id="n14-9"><ellipse class="K" cx="500" cy="738" rx="17.5" ry="21.5"/><use href="#lw" x="500" y="738"/></g>
<g id="n14-10"><ellipse class="T" cx="552" cy="738" rx="17.5" ry="21.5"/><use href="#lb" x="552" y="738"/></g>
<g id="n14-11"><ellipse class="T" cx="604" cy="738" rx="17.5" ry="21.5"/><use href="#lb" x="604" y="738"/></g>
<g id="n14-12"><ellipse class="T" cx="656" cy="738" rx="17.5" ry="21.5"/><use href="#lb" x="656" y="738"/></g>
<g id="n14-13"><ellipse class="T" cx="708" cy="738" rx="17.5" ry="21.5"/><use href="#lb" x="708" y="738"/></g>
<g id="n14-14"><ellipse class="T" cx="760" cy="738" rx="17.5" ry="21.5"/><use href="#lb" x="760" y="738"/></g>
<g id="n14-15"><ellipse class="T" cx="812" cy="738" rx="17.5" ry="21.5"/><use href="#lb" x="812" y="738"/></g>
<g id="n14-16"><ellipse class="T" cx="864" cy="738" rx="17.5" ry="21.5"/><use href="#lb" x="864" y="738"/></g>

<g id="n15-1"><ellipse class="T" cx="84" cy="790" rx="17.5" ry="21.5"/><use href="#rb" x="84" y="790"/></g>
<g id="n15-2"><ellipse class="K" cx="136" cy="790" rx="17.5" ry="21.5"/><use href="#rw" x="136" y="790"/></g>
<g id="n15-3"><ellipse class="Y" cx="188" cy="790" rx="17.5" ry="21.5"/><use href="#rb" x="188" y="790"/></g>
<g id="n15-4"><ellipse class="Y" cx="240" cy="790" rx="17.5" ry="21.5"/><use href="#rb" x="240" y="790"/></g>
<g id="n15-5"><ellipse class="O" cx="292" cy="790" rx="17.5" ry="21.5"/><use href="#rw" x="292" y="790"/></g>
<g id="n15-6"><ellipse class="O" cx="344" cy="790" rx="17.5" ry="21.5"/><use href="#rw" x="344" y="790"/></g>
<g id="n15-7"><ellipse class="O" cx="396" cy="790" rx="17.5" ry="21.5"/><use href="#rw" x="396" y="790"/></g>
<g id="n15-8"><ellipse class="O" cx="448" cy="790" rx="17.5" ry="21.5"/><use href="#rw" x="448" y="790"/></g>
<g id="n15-9"><ellipse class="K" cx="500" cy="790" rx="17.5" ry="21.5"/><use href="#rw" x="500" y="790"/></g>
<g id="n15-10"><ellipse class="T" cx="552" cy="790" rx="17.5" ry="21.5"/><use href="#rb" x="552" y="790"/></g>
<g id="n15-11"><ellipse class="T" cx="604" cy="790" rx="17.5" ry="21.5"/><use href="#rb" x="604" y="790"/></g>
<g id="n15-12"><ellipse class="T" cx="656" cy="790" rx="17.5" ry="21.5"/><use href="#rb" x="656" y="790"/></g>
<g id="n15-13"><ellipse class="T" cx="708" cy="790" rx="17.5" ry="21.5"/><use href="#rb" x="708" y="790"/></g>
<g id="n15-14"><ellipse class="T" cx="760" cy="790" rx="17.5" ry="21.5"/><use href="#rb" x="760" y="790"/></g>
<g id="n15-15"><ellipse class="T" cx="812" cy="790" rx="17.5" ry="21.5"/><use href="#rb" x="812" y="790"/></g>
<g id="n15-16"><ellipse class="T" cx="864" cy="790" rx="17.5" ry="21.5"/><use href="#rb" x="864" y="790"/></g>

<g id="n16-1"><ellipse class="T" cx="84" cy="842" rx="17.5" ry="21.5"/><use href="#lb" x="84" y="842"/></g>
<g id="n16-2"><ellipse class="K" cx="136" cy="842" rx="17.5" ry="21.5"/><use href="#lw" x="136" y="842"/></g>
<g id="n16-3"><ellipse class="Y" cx="188" cy="842" rx="17.5" ry="21.5"/><use href="#lb" x="188" y="842"/></g>
<g id="n16-4"><ellipse class="Y" cx="240" cy="842" rx="17.5" ry="21.5"/><use href="#lb" x="240" y="842"/></g>
<g id="n16-5"><ellipse class="Y" cx="292" cy="842" rx="17.5" ry="21.5"/><use href="#lb" x="292" y="842"/></g>
<g id="n16-6"><ellipse class="O" cx="344" cy="842" rx="17.5" ry="21.5"/><use href="#lw" x="344" y="842"/></g>
<g id="n16-7"><ellipse class="O" cx="396" cy="842" rx="17.5" ry="21.5"/><use href="#lw" x="396" y="842"/></g>
<g id="n16-8"><ellipse class="K" cx="448" cy="842" rx="17.5" ry="21.5"/><use href="#lw" x="448" y="842"/></g>
<g id="n16-9"><ellipse class="T" cx="500" cy="842" rx="17.5" ry="21.5"/><use href="#lb" x="500" y="842"/></g>
<g id="n16-10"><ellipse class="T" cx="552" cy="842" rx="17.5" ry="21.5"/><use href="#lb" x="552" y="842"/></g>
<g id="n16-11"><ellipse class="T" cx="604" cy="842" rx="17.5" ry="21.5"/><use href="#lb" x="604" y="842"/></g>
<g id="n16-12"><ellipse class="T" cx="656" cy="842" rx="17.5" ry="21.5"/><use href="#lb" x="656" y="842"/></g>
<g id="n16-13"><ellipse class="T" cx="708" cy="842" rx="17.5" ry="21.5"/><use href="#lb" x="708" y="842"/></g>
<g id="n16-14"><ellipse class="T" cx="760" cy="842" rx="17.5" ry="21.5"/><use href="#lb" x="760" y="842"/></g>
<g id="n16-15"><ellipse class="T" cx="812" cy="842" rx="17.5" ry="21.5"/><use href="#lb" x="812" y="842"/></g>
<g id="n16-16"><ellipse class="T" cx="864" cy="842" rx="17.5" ry="21.5"/><use href="#lb" x="864" y="842"/></g>

<g id="n17-1"><ellipse class="T" cx="84" cy="894" rx="17.5" ry="21.5"/><use href="#rb" x="84" y="894"/></g>
<g id="n17-2"><ellipse class="T" cx="136" cy="894" rx="17.5" ry="21.5"/><use href="#rb" x="136" y="894"/></g>
<g id="n17-3"><ellipse class="K" cx="188" cy="894" rx="17.5" ry="21.5"/><use href="#rw" x="188" y="894"/></g>
<g id="n17-4"><ellipse class="Y" cx="240" cy="894" rx="17.5" ry="21.5"/><use href="#rb" x="240" y="894"/></g>
<g id="n17-5"><ellipse class="Y" cx="292" cy="894" rx="17.5" ry="21.5"/><use href="#rb" x="292" y="894"/></g>
<g id="n17-6"><ellipse class="Y" cx="344" cy="894" rx="17.5" ry="21.5"/><use href="#rb" x="344" y="894"/></g>
<g id="n17-7"><ellipse class="O" cx="396" cy="894" rx="17.5" ry="21.5"/><use href="#rw" x="396" y="894"/></g>
<g id="n17-8"><ellipse class="K" cx="448" cy="894" rx="17.5" ry="21.5"/><use href="#rw" x="448" y="894"/></g>
<g id="n17-9"><ellipse class="T" cx="500" cy="894" rx="17.5" ry="21.5"/><use href="#rb" x="500" y="894"/></g>
<g id="n17-10"><ellipse class="T" cx="552" cy="894" rx="17.5" ry="21.5"/><use href="#rb" x="552" y="894"/></g>
<g id="n17-11"><ellipse class="T" cx="604" cy="894" rx="17.5" ry="21.5"/><use href="#rb" x="604" y="894"/></g>
<g id="n17-12"><ellipse class="T" cx="656" cy="894" rx="17.5" ry="21.5"/><use href="#rb" x="656" y="894"/></g>
<g id="n17-13"><ellipse class="T" cx="708" cy="894" rx="17.5" ry="21.5"/><use href="#rb" x="708" y="894"/></g>
<g id="n17-14"><ellipse class="T" cx="760" cy="894" rx="17.5" ry="21.5"/><use href="#rb" x="760" y="894"/></g>
<g id="n17-15"><ellipse class="T" cx="812" cy="894" rx="17.5" ry="21.5"/><use href="#rb" x="812" y="894"/></g>
<g id="n17-16"><ellipse class="T" cx="864" cy="894" rx="17.5" ry="21.5"/><use href="#rb" x="864" y="894"/></g>

<g id="n18-1"><ellipse class="T" cx="84" cy="946" rx="17.5" ry="21.5"/><use href="#lb" x="84" y="946"/></g>
<g id="n18-2"><ellipse class="T" cx="136" cy="946" rx="17.5" ry="21.5"/><use href="#lb" x="136" y="946"/></g>
<g id="n18-3"><ellipse class="T" cx="188" cy="946" rx="17.5" ry="21.5"/><use href="#lb" x="188" y="946"/></g>
<g id="n18-4"><ellipse class="K" cx="240" cy="946" rx="17.5" ry="21.5"/><use href="#lw" x="240" y="946"/></g>
<g id="n18-5"><ellipse class="Y" cx="292" cy="946" rx="17.5" ry="21.5"/><use href="#lb" x="292" y="946"/></g>
<g id="n18-6"><ellipse class="Y" cx="344" cy="946" rx="17.5" ry="21.5"/><use href="#lb" x="344" y="946"/></g>
<g id="n18-7"><ellipse class="K" cx="396" cy="946" rx="17.5" ry="21.5"/><use href="#lw" x="396" y="946"/></g>
<g id="n18-8"><ellipse class="T" cx="448" cy="946" rx="17.5" ry="21.5"/><use href="#lb" x="448" y="946"/></g>
<g id="n18-9"><ellipse class="T" cx="500" cy="946" rx="17.5" ry="21.5"/><use href="#lb" x="500" y="946"/></g>
<g id="n18-10"><ellipse class="T" cx="552" cy="946" rx="17.5" ry="21.5"/><use href="#lb" x="552" y="946"/></g>
<g id="n18-11"><ellipse class="T" cx="604" cy="946" rx="17.5" ry="21.5"/><use href="#lb" x="604" y="946"/></g>
<g id="n18-12"><ellipse class="T" cx="656" cy="946" rx="17.5" ry="21.5"/><use href="#lb" x="656" y="946"/></g>
<g id="n18-13"><ellipse class="T" cx="708" cy="946" rx="17.5" ry="21.5"/><use href="#lb" x="708" y="946"/></g>
<g id="n18-14"><ellipse class="T" cx="760" cy="946" rx="17.5" ry="21.5"/><use href="#lb" x="760" y="946"/></g>
<g id="n18-15"><ellipse class="T" cx="812" cy="946" rx="17.5" ry="21.5"/><use href="#lb" x="812" y="946"/></g>
<g id="n18-16"><ellipse class="T" cx="864" cy="946" rx="17.5" ry="21.5"/><use href="#lb" x="864" y="946"/></g>

<g id="n19-1"><ellipse class="T" cx="84" cy="998" rx="17.5" ry="21.5"/><use href="#rb" x="84" y="998"/></g>
<g id="n19-2"><ellipse class="T" cx="136" cy="998" rx="17.5" ry="21.5"/><use href="#rb" x="136" y="998"/></g>
<g id="n19-3"><ellipse class="T" cx="188" cy="998" rx="17.5" ry="21.5"/><use href="#rb" x="188" y="998"/></g>
<g id="n19-4"><ellipse class="T" cx="240" cy="998" rx="17.5" ry="21.5"/><use href="#rb" x="240" y="998"/></g>
<g id="n19-5"><ellipse class="K" cx="292" cy="998" rx="17.5" ry="21.5"/><use href="#rw" x="292" y="998"/></g>
<g id="n19-6"><ellipse class="K" cx="344" cy="998" rx="17.5" ry="21.5"/><use href="#rw" x="344" y="998"/></g>
<g id="n19-7"><ellipse class="T" cx="396" cy="998" rx="17.5" ry="21.5"/><use href="#rb" x="396" y="998"/></g>
<g id="n19-8"><ellipse class="T" cx="448" cy="998" rx="17.5" ry="21.5"/><use href="#rb" x="448" y="998"/></g>
<g id="n19-9"><ellipse class="T" cx="500" cy="998" rx="17.5" ry="21.5"/><use href="#rb" x="500" y="998"/></g>
<g id="n19-10"><ellipse class="T" cx="552" cy="998" rx="17.5" ry="21.5"/><use href="#rb" x="552" y="998"/></g>
<g id="n19-11"><ellipse class="T" cx="604" cy="998" rx="17.5" ry="21.5"/><use href="#rb" x="604" y="998"/></g>
<g id="n19-12"><ellipse class="T" cx="656" cy="998" rx="17.5" ry="21.5"/><use href="#rb" x="656" y="998"/></g>
<g id="n19-13"><ellipse class="T" cx="708" cy="998" rx="17.5" ry="21.5"/><use href="#rb" x="708" y="998"/></g>
<g id="n19-14"><ellipse class="T" cx="760" cy="998" rx="17.5" ry="21.5"/><use href="#rb" x="760" y="998"/></g>
<g id="n19-15"><ellipse class="T" cx="812" cy="998" rx="17.5" ry="21.5"/><use href="#rb" x="812" y="998"/></g>
<g id="n19-16"><ellipse class="T" cx="864" cy="998" rx="17.5" ry="21.5"/><use href="#rb" x="864" y="998"/></g>

<g id="n20-1"><ellipse class="T" cx="84" cy="1050" rx="17.5" ry="21.5"/><use href="#lb" x="84" y="1050"/></g>
<g id="n20-2"><ellipse class="T" cx="136" cy="1050" rx="17.5" ry="21.5"/><use href="#lb" x="136" y="1050"/></g>
<g id="n20-3"><ellipse class="T" cx="188" cy="1050" rx="17.5" ry="21.5"/><use href="#lb" x="188" y="1050"/></g>
<g id="n20-4"><ellipse class="T" cx="240" cy="1050" rx="17.5" ry="21.5"/><use href="#lb" x="240" y="1050"/></g>
<g id="n20-5"><ellipse class="T" cx="292" cy="1050" rx="17.5" ry="21.5"/><use href="#lb" x="292" y="1050"/></g>
<g id="n20-6"><ellipse class="T" cx="344" cy="1050" rx="17.5" ry="21.5"/><use href="#lb" x="344" y="1050"/></g>
<g id="n20-7"><ellipse class="T" cx="396" cy="1050" rx="17.5" ry="21.5"/><use href="#lb" x="396" y="1050"/></g>
<g id="n20-8"><ellipse class="T" cx="448" cy="1050" rx="17.5" ry="21.5"/><use href="#lb" x="448" y="1050"/></g>
<g id="n20-9"><ellipse class="T" cx="500" cy="1050" rx="17.5" ry="21.5"/><use href="#lb" x="500" y="1050"/></g>
<g id="n20-10"><ellipse class="T" cx="552" cy="1050" rx="17.5" ry="21.5"/><use href="#lb" x="552" y="1050"/></g>
<g id="n20-11"><ellipse class="T" cx="604" cy="1050" rx="17.5" ry="21.5"/><use href="#lb" x="604" y="1050"/></g>
<g id="n20-12"><ellipse class="T" cx="656" cy="1050" rx="17.5" ry="21.5"/><use href="#lb" x="656" y="1050"/></g>
<g id="n20-13"><ellipse class="T" cx="708" cy="1050" rx="17.5" ry="21.5"/><use href="#lb" x="708" y="1050"/></g>
<g id="n20-14"><ellipse class="T" cx="760" cy="1050" rx="17.5" ry="21.5"/><use href="#lb" x="760" y="1050"/></g>
<g id="n20-15"><ellipse class="T" cx="812" cy="1050" rx="17.5" ry="21.5"/><use href="#lb" x="812" y="1050"/></g>
<g id="n20-16"><ellipse class="T" cx="864" cy="1050" rx="17.5" ry="21.5"/><use href="#lb" x="864" y="1050"/></g>
</g>

<g id="row-numbers" class="num">
<text x="22" y="66" text-anchor="end">1</text><text x="927" y="66">1</text>
<text x="22" y="118" text-anchor="end">2</text><text x="927" y="118">2</text>
<text x="22" y="170" text-anchor="end">3</text><text x="927" y="170">3</text>
<text x="22" y="222" text-anchor="end">4</text><text x="927" y="222">4</text>
<text x="22" y="274" text-anchor="end">5</text><text x="927" y="274">5</text>
<text x="22" y="326" text-anchor="end">6</text><text x="927" y="326">6</text>
<text x="22" y="378" text-anchor="end">7</text><text x="927" y="378">7</text>
<text x="22" y="430" text-anchor="end">8</text><text x="927" y="430">8</text>
<text x="22" y="482" text-anchor="end">9</text><text x="927" y="482">9</text>
<text x="22" y="534" text-anchor="end">10</text><text x="927" y="534">10</text>
<text x="22" y="586" text-anchor="end">11</text><text x="927" y="586">11</text>
<text x="22" y="638" text-anchor="end">12</text><text x="927" y="638">12</text>
<text x="22" y="690" text-anchor="end">13</text><text x="927" y="690">13</text>
<text x="22" y="742" text-anchor="end">14</text><text x="927" y="742">14</text>
<text x="22" y="794" text-anchor="end">15</text><text x="927" y="794">15</text>
<text x="22" y="846" text-anchor="end">16</text><text x="927" y="846">16</text>
<text x="22" y="898" text-anchor="end">17</text><text x="927" y="898">17</text>
<text x="22" y="950" text-anchor="end">18</text><text x="927" y="950">18</text>
<text x="22" y="1002" text-anchor="end">19</text><text x="927" y="1002">19</text>
<text x="22" y="1054" text-anchor="end">20</text><text x="927" y="1054">20</text>
</g>

<g id="watermark">
<rect x="395" y="548" width="158" height="16" fill="#fff" fill-opacity="0.45"/>
<text x="474" y="561" text-anchor="middle" font-family="'Liberation Sans',Arial,sans-serif" font-size="14" font-weight="bold" fill="#3c3c3c" stroke="#fff" stroke-width="1.5" paint-order="stroke">BRACELETBOOK.COM</text>
</g>
</svg>
